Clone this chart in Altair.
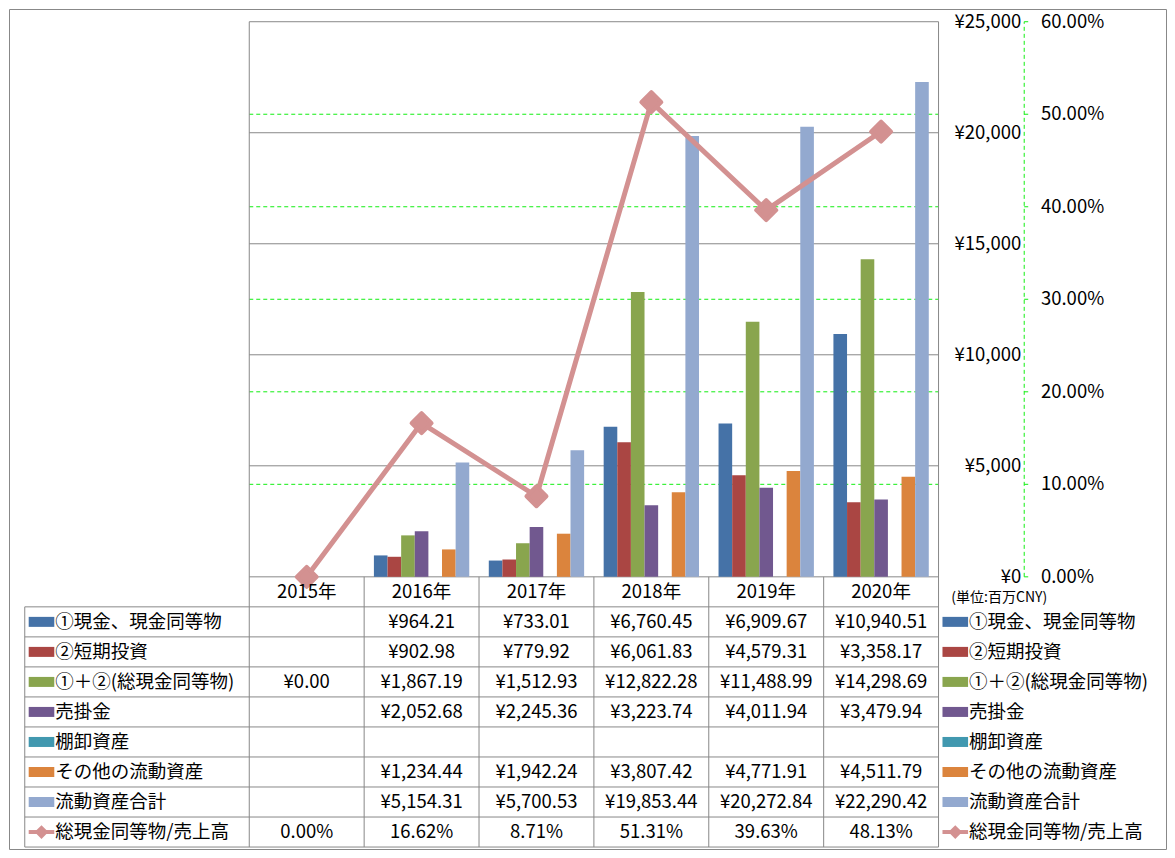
import altair as alt
import pandas as pd

# ---------------- data ----------------
years = ["2015年", "2016年", "2017年", "2018年", "2019年", "2020年"]
series_names = ["①現金、現金同等物", "②短期投資", "①＋②(総現金同等物)", "売掛金",
                "棚卸資産", "その他の流動資産", "流動資産合計"]
ratio_name = "総現金同等物/売上高"
cash = [None, 964.21, 733.01, 6760.45, 6909.67, 10940.51]
short_inv = [None, 902.98, 779.92, 6061.83, 4579.31, 3358.17]
total_cash = [0.00, 1867.19, 1512.93, 12822.28, 11488.99, 14298.69]
receivable = [None, 2052.68, 2245.36, 3223.74, 4011.94, 3479.94]
inventory = [None, None, None, None, None, None]
other_current = [None, 1234.44, 1942.24, 3807.42, 4771.91, 4511.79]
current_total = [None, 5154.31, 5700.53, 19853.44, 20272.84, 22290.42]
ratio = [0.0, 0.1662, 0.0871, 0.5131, 0.3963, 0.4813]
yen_ticks = [0, 5000, 10000, 15000, 20000, 25000]
pct_ticks = [0.0, 0.1, 0.2, 0.3, 0.4, 0.5, 0.6]
unit_label = "(単位:百万CNY)"

series_values = [cash, short_inv, total_cash, receivable, inventory, other_current, current_total]

# ---------------- styles / geometry ----------------
colors = ["#4572A7", "#AA4643", "#89A54E", "#71588F", "#4198AF", "#DB843D", "#93A9CF"]
line_color = "#D39191"
grid_gray = "#888888"
green = "#11EE11"
FONT = "Noto Sans CJK JP"
FS = 18.5

W, H = 1157, 840
SX, SY = W / 1175.0, H / 858.0


def px(x):
    return x * SX


def py(y):
    return y * SY


PL, PR = px(244), px(944)
PT, PB = py(13), py(580)
TB = py(856)
LEG_L = px(16)
AX_X = px(1031)

yen_scale = alt.Scale(domain=[0, 25000], range=[PB, PT], zero=False, nice=False)
pct_scale = alt.Scale(domain=[0, 0.6], range=[PB, PT], zero=False, nice=False)
bar_x_scale = alt.Scale(domain=years, range=[PL, PR], paddingInner=0.17, paddingOuter=0.085)
col_scale = alt.Scale(domain=years, range=[PL, PR], paddingInner=0, paddingOuter=0)
row_scale = alt.Scale(domain=[0, 9], range=[PB, TB], zero=False, nice=False)

# ---------------- tables ----------------
bar_rows = []
for name, vals in zip(series_names, series_values):
    for y, v in zip(years, vals):
        if v is not None:
            bar_rows.append({"year": y, "series": name, "value": v})
bars_df = pd.DataFrame(bar_rows)

ratio_df = pd.DataFrame({"year": years, "ratio": ratio})

cell_rows = []
for y in years:
    cell_rows.append({"year": y, "row": 0.5, "text": y})
for i, vals in enumerate(series_values):
    for y, v in zip(years, vals):
        if v is not None:
            cell_rows.append({"year": y, "row": i + 1.5, "text": f"¥{v:,.2f}"})
for y, v in zip(years, ratio):
    cell_rows.append({"year": y, "row": 8.5, "text": f"{v * 100:.2f}%"})
cells_df = pd.DataFrame(cell_rows)

legend_df = pd.DataFrame({"name": series_names, "row": [i + 1.5 for i in range(len(series_names))]})
ratio_leg_df = pd.DataFrame({"name": [ratio_name], "row": [8.5]})

yen_df = pd.DataFrame({"v": yen_ticks, "label": [f"¥{v:,}" for v in yen_ticks]})
pct_df = pd.DataFrame({"v": pct_ticks, "label": [f"{v * 100:.2f}%" for v in pct_ticks]})
green_grid_df = pd.DataFrame({"v": pct_ticks[1:-1]})

hline_df = pd.DataFrame({"r": list(range(1, 10))})
vline_df = pd.DataFrame({"year": years[1:]})

# ---------------- layers ----------------
gray_grid = alt.Chart(yen_df).mark_rule(color=grid_gray, strokeWidth=1).encode(
    y=alt.Y("v:Q", scale=yen_scale, axis=None),
    x=alt.value(PL), x2=alt.value(PR))

green_grid = alt.Chart(green_grid_df).mark_rule(color=green, strokeWidth=1, strokeDash=[4, 3]).encode(
    y=alt.Y("v:Q", scale=pct_scale, axis=None),
    x=alt.value(PL), x2=alt.value(PR))

bars = alt.Chart(bars_df).mark_bar(strokeWidth=0).encode(
    x=alt.X("year:N", scale=bar_x_scale, axis=None, sort=years),
    xOffset=alt.XOffset("series:N", scale=alt.Scale(domain=series_names, paddingInner=0, paddingOuter=0),
                        sort=series_names),
    y=alt.Y("value:Q", scale=yen_scale, axis=None),
    color=alt.Color("series:N", scale=alt.Scale(domain=series_names, range=colors), legend=None))

# table lines
h_lines = alt.Chart(hline_df).mark_rule(color=grid_gray, strokeWidth=1).encode(
    y=alt.Y("r:Q", scale=row_scale, axis=None),
    x=alt.value(LEG_L), x2=alt.value(PR))
v_lines = alt.Chart(vline_df).mark_rule(color=grid_gray, strokeWidth=1).encode(
    x=alt.X("year:N", scale=col_scale, axis=None, bandPosition=0),
    y=alt.value(PB), y2=alt.value(TB))
outer_v = alt.Chart(pd.DataFrame({"side": ["L", "R"]})).mark_rule(color=grid_gray, strokeWidth=1).encode(
    x=alt.X("side:N", scale=alt.Scale(type="point", domain=["L", "R"], range=[PL, PR], padding=0),
            axis=None),
    y=alt.value(PT), y2=alt.value(TB))
leg_border = alt.Chart(pd.DataFrame({"r": [1]})).mark_rule(color=grid_gray, strokeWidth=1).encode(
    y=alt.Y("r:Q", scale=row_scale, axis=None), y2=alt.value(TB), x=alt.value(LEG_L))

# secondary axis line (green dashed) and ticks
green_axis = alt.Chart(pd.DataFrame({"v": [0.0], "v2": [0.6]})).mark_rule(
    color=green, strokeWidth=1, strokeDash=[4, 3]).encode(
    y=alt.Y("v:Q", scale=pct_scale, axis=None), y2="v2:Q", x=alt.value(AX_X))
green_ticks = alt.Chart(pct_df).mark_rule(color=green, strokeWidth=1).encode(
    y=alt.Y("v:Q", scale=pct_scale, axis=None), x=alt.value(AX_X), x2=alt.value(AX_X + 4))

yen_labels = alt.Chart(yen_df).mark_text(align="right", baseline="middle", font=FONT, fontSize=FS,
                                         color="#000000").encode(
    y=alt.Y("v:Q", scale=yen_scale, axis=None), x=alt.value(px(1028)), text="label:N")
pct_labels = alt.Chart(pct_df).mark_text(align="left", baseline="middle", font=FONT, fontSize=FS,
                                         color="#000000").encode(
    y=alt.Y("v:Q", scale=pct_scale, axis=None), x=alt.value(px(1048)), text="label:N")

# ratio line
ratio_line = alt.Chart(ratio_df).mark_line(color=line_color, strokeWidth=5, strokeJoin="round").encode(
    x=alt.X("year:N", scale=bar_x_scale, axis=None, sort=years),
    y=alt.Y("ratio:Q", scale=pct_scale, axis=None))
ratio_pts = alt.Chart(ratio_df).mark_point(shape="diamond", filled=True, size=400, color=line_color,
                                           stroke=line_color, strokeWidth=4, strokeJoin="round",
                                           opacity=1).encode(
    x=alt.X("year:N", scale=bar_x_scale, axis=None, sort=years),
    y=alt.Y("ratio:Q", scale=pct_scale, axis=None))

# table text
cells = alt.Chart(cells_df).mark_text(align="center", baseline="middle", font=FONT, fontSize=FS,
                                      color="#000000").encode(
    x=alt.X("year:N", scale=col_scale, axis=None, sort=years),
    y=alt.Y("row:Q", scale=row_scale, axis=None),
    text="text:N")


def legend_layers(x0):
    sw = alt.Chart(legend_df).mark_rule(strokeWidth=10).encode(
        y=alt.Y("row:Q", scale=row_scale, axis=None),
        x=alt.value(px(x0)), x2=alt.value(px(x0 + 26)),
        color=alt.Color("name:N", scale=alt.Scale(domain=series_names, range=colors), legend=None))
    txt = alt.Chart(legend_df).mark_text(align="left", baseline="middle", font=FONT, fontSize=FS,
                                         color="#000000").encode(
        y=alt.Y("row:Q", scale=row_scale, axis=None), x=alt.value(px(x0 + 27)), text="name:N")
    rl = alt.Chart(ratio_leg_df).mark_rule(strokeWidth=4, color=line_color).encode(
        y=alt.Y("row:Q", scale=row_scale, axis=None),
        x=alt.value(px(x0)), x2=alt.value(px(x0 + 26)))
    rp = alt.Chart(ratio_leg_df).mark_point(shape="diamond", filled=True, size=120, color=line_color,
                                            stroke=line_color, strokeWidth=2, opacity=1).encode(
        y=alt.Y("row:Q", scale=row_scale, axis=None), x=alt.value(px(x0 + 13)))
    rt = alt.Chart(ratio_leg_df).mark_text(align="left", baseline="middle", font=FONT, fontSize=FS,
                                           color="#000000").encode(
        y=alt.Y("row:Q", scale=row_scale, axis=None), x=alt.value(px(x0 + 27)), text="name:N")
    return [sw, txt, rl, rp, rt]


unit_txt = alt.Chart(pd.DataFrame({"t": [unit_label], "row": [0.72]})).mark_text(
    align="left", baseline="middle", font=FONT, fontSize=14, color="#000000").encode(
    y=alt.Y("row:Q", scale=row_scale, axis=None), x=alt.value(px(957)), text="t:N")

layers = [gray_grid, green_grid, bars, h_lines, v_lines, outer_v, leg_border, green_axis, green_ticks,
          yen_labels, pct_labels, ratio_line, ratio_pts, cells, unit_txt]
layers += legend_layers(20)
layers += legend_layers(948)

chart = alt.layer(*layers).resolve_scale(
    x="independent", y="independent", color="independent", xOffset="independent"
).properties(
    width=W, height=H, autosize="none", padding=1, background="white"
).configure_view(stroke=grid_gray, strokeWidth=1)

chart.save("out.html", embed_options={"renderer": "svg", "actions": False})
